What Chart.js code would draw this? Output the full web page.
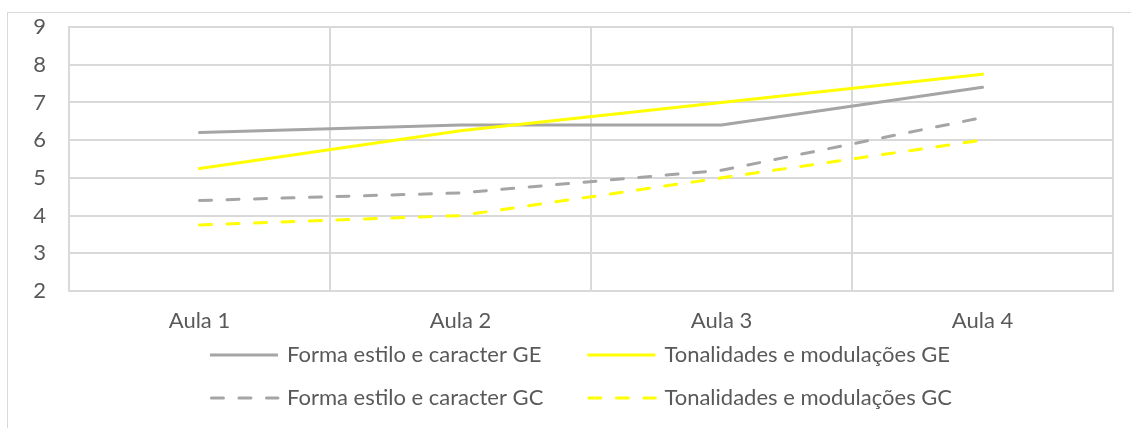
<!DOCTYPE html>
<html lang="pt">
<head>
<meta charset="UTF-8">
<title>Aulas</title>
<style>
    html, body { margin: 0; padding: 0; background: #fff; }
    body { width: 1131px; height: 428px; overflow: hidden; position: relative; }
    #moldura {
        position: absolute; left: 7px; top: 12px; width: 1200px; height: 500px;
        border-top: 1px solid #d9d9d9; border-left: 1px solid #d9d9d9;
    }
    #grafico { position: absolute; left: 0; top: 0; }
</style>
</head>
<body>
    <div id="moldura"></div>
    <canvas id="grafico" width="1131" height="428"></canvas>

    <script src="https://cdn.jsdelivr.net/npm/chart.js"></script>
    <script>
    // dados
    const aulas = ['Aula 1', 'Aula 2', 'Aula 3', 'Aula 4'];
    const formaGE = [6.2, 6.4, 6.4, 7.4];
    const tonalidadesGE = [5.25, 6.25, 7.0, 7.75];
    const formaGC = [4.4, 4.6, 5.2, 6.6];
    const tonalidadesGC = [3.75, 4.0, 5.0, 6.0];
    const eixoY = [2, 3, 4, 5, 6, 7, 8, 9];

    const cinza = '#a5a5a5';
    const amarelo = '#ffff00';
    const corTexto = '#595959';
    const corGrade = '#d9d9d9';
    const familia = 'Lato, "Open Sans", sans-serif';
    const tamanho = 22;
    const tracejado = [12, 15.5];

    // legenda em duas colunas, como no Excel
    const legendaExcel = {
        id: 'legendaExcel',
        afterDraw(chart) {
            const ctx = chart.ctx;
            const ds = chart.data.datasets;
            ctx.save();
            ctx.font = tamanho + 'px ' + familia;
            const amostra = 68, espaco = 9, entreColunas = 44;
            const w = i => ctx.measureText(ds[i].label).width;
            const col1 = Math.max(w(0), w(2));
            const col2 = Math.max(w(1), w(3));
            const total = amostra + espaco + col1 + entreColunas + amostra + espaco + col2;
            const x0 = 581 - total / 2;
            const colX = [x0, x0 + amostra + espaco + col1 + entreColunas];
            const linhas = [355, 398];

            ds.forEach(function(d, i) {
                const x = colX[i % 2];
                const y = linhas[Math.floor(i / 2)];
                ctx.beginPath();
                ctx.strokeStyle = d.borderColor;
                ctx.lineWidth = 3;
                if (d.borderDash) {
                    ctx.setLineDash(d.borderDash);
                    ctx.lineCap = 'round';
                    ctx.moveTo(x + 1.5, y);
                } else {
                    ctx.setLineDash([]);
                    ctx.lineCap = 'butt';
                    ctx.moveTo(x, y);
                }
                ctx.lineTo(x + amostra, y);
                ctx.stroke();
                ctx.fillStyle = corTexto;
                ctx.textAlign = 'left';
                ctx.textBaseline = 'middle';
                ctx.fillText(d.label, x + amostra + espaco, y);
            });
            ctx.restore();
        }
    };

    function serie(rotulo, valores, cor, tipo, ordem) {
        return {
            label: rotulo,
            data: valores,
            order: ordem,
            borderColor: cor,
            backgroundColor: cor,
            borderWidth: 3,
            borderDash: tipo,
            borderCapStyle: 'round',
            borderJoinStyle: 'round',
            pointRadius: 0,
            tension: 0,
            fill: false
        };
    }

    new Chart(document.getElementById('grafico'), {
        type: 'line',
        data: {
            labels: aulas,
            datasets: [
                serie('Forma estilo e caracter GE', formaGE, cinza, undefined, 4),
                serie('Tonalidades e modulações GE', tonalidadesGE, amarelo, undefined, 3),
                serie('Forma estilo e caracter GC', formaGC, cinza, tracejado, 2),
                serie('Tonalidades e modulações GC', tonalidadesGC, amarelo, tracejado, 1)
            ]
        },
        options: {
            responsive: false,
            animation: false,
            layout: { padding: { top: 27, right: 18, left: 0, bottom: 0 } },
            plugins: {
                legend: { display: false },
                tooltip: { enabled: false }
            },
            scales: {
                x: {
                    offset: true,
                    grid: { color: corGrade, lineWidth: 2, offset: true, drawTicks: false },
                    border: { color: corGrade, width: 2 },
                    ticks: {
                        color: corTexto,
                        padding: 17,
                        maxRotation: 0,
                        font: { family: familia, size: tamanho }
                    },
                    afterFit(scale) { scale.height = 137; }
                },
                y: {
                    min: eixoY[0],
                    max: eixoY[eixoY.length - 1],
                    afterBuildTicks(scale) { scale.ticks = eixoY.map(v => ({ value: v })); },
                    grid: { color: corGrade, lineWidth: 2, drawTicks: false },
                    border: { color: corGrade, width: 2 },
                    ticks: {
                        color: corTexto,
                        padding: 23,
                        font: { family: familia, size: tamanho }
                    },
                    afterFit(scale) {
                        scale.width = 69;
                        scale.paddingTop = 0;
                        scale.paddingBottom = 0;
                    }
                }
            }
        },
        plugins: [legendaExcel]
    });
    </script>
</body>
</html>
